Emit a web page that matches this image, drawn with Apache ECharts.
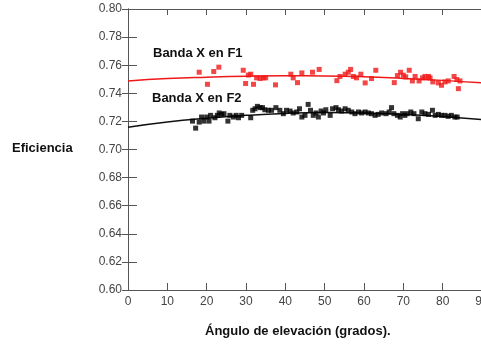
<!DOCTYPE html>
<html>
<head>
<meta charset="utf-8">
<script src="https://cdn.jsdelivr.net/npm/echarts@6/dist/echarts.min.js"></script>
<style>
  html, body { margin: 0; padding: 0; background: #fff; }
  #main { width: 481px; height: 344px; }
</style>
</head>
<body>
<div id="main"></div>
<script>
// ---- datos ----
var anguloF1 = [18.1, 20.2, 21.8, 23.1, 29.3, 29.9, 30.6, 31.2, 31.9, 32.7, 33.6, 34.4, 35.0, 37.5,
    41.4, 42.0, 43.1, 44.2, 46.9, 48.6, 53.1, 53.9, 55.2, 56.0, 56.6, 57.3, 58.1, 59.2, 60.3, 61.9,
    63.0, 67.7, 68.5, 69.3, 70.0, 70.6, 71.5, 72.3, 73.0, 74.0, 74.9, 75.5, 76.4, 76.8, 77.5, 78.9,
    79.7, 80.6, 81.4, 82.9, 83.6, 84.0, 84.4];
var eficF1 = [0.755, 0.7464, 0.7555, 0.7586, 0.7564, 0.747, 0.753, 0.7536, 0.7464, 0.751, 0.7505, 0.751,
    0.751, 0.746, 0.7536, 0.751, 0.7476, 0.7545, 0.755, 0.757, 0.749, 0.752, 0.7536, 0.755, 0.757,
    0.752, 0.751, 0.7536, 0.7474, 0.7505, 0.7564, 0.7476, 0.7526, 0.755, 0.7529, 0.7517, 0.7564,
    0.7488, 0.752, 0.7488, 0.751, 0.752, 0.752, 0.751, 0.7481, 0.7474, 0.7457, 0.7481, 0.7488,
    0.752, 0.7498, 0.7433, 0.7488];

var anguloF2 = [16.4, 17.2, 18.1, 18.7, 19.3, 20.0, 20.6, 21.0, 22.1, 22.7, 23.2, 23.8, 24.4, 25.4,
    25.9, 26.8, 27.5, 28.1, 28.9, 31.2, 31.7, 32.3, 32.9, 33.6, 34.2, 34.8, 35.7, 36.5, 37.6, 38.6,
    39.5, 40.3, 41.2, 42.0, 42.9, 43.6, 44.2, 45.0, 45.8, 46.4, 47.1, 47.8, 48.4, 49.1, 49.7, 50.3,
    51.4, 52.0, 52.9, 53.5, 54.3, 55.2, 56.0, 56.9, 57.7, 58.6, 59.4, 60.3, 61.1, 61.9, 62.8, 63.6,
    64.5, 65.6, 66.4, 67.0, 67.6, 68.5, 69.2, 69.8, 70.4, 71.0, 71.9, 72.7, 73.8, 74.7, 75.5, 76.4,
    77.4, 78.1, 78.9, 79.7, 80.6, 81.4, 82.2, 83.1, 83.7];
var eficF2 = [0.7202, 0.7152, 0.7195, 0.7231, 0.7202, 0.7231, 0.7202, 0.7243, 0.7226, 0.7243, 0.726,
    0.725, 0.7255, 0.7202, 0.7243, 0.7231, 0.7243, 0.7226, 0.7243, 0.7226, 0.7279, 0.729, 0.7307,
    0.7298, 0.7298, 0.7283, 0.7279, 0.7279, 0.7298, 0.7279, 0.7255, 0.7279, 0.7274, 0.726, 0.7267,
    0.729, 0.7231, 0.7243, 0.7321, 0.7279, 0.7243, 0.726, 0.7231, 0.7274, 0.726, 0.7283, 0.7243,
    0.729, 0.7298, 0.7283, 0.7274, 0.729, 0.7279, 0.7267, 0.7255, 0.7267, 0.726, 0.7267, 0.726,
    0.7255, 0.7243, 0.725, 0.726, 0.7255, 0.7267, 0.7298, 0.7255, 0.7243, 0.7231, 0.7255, 0.7243,
    0.7255, 0.7267, 0.7255, 0.7219, 0.7267, 0.7255, 0.725, 0.7279, 0.7243, 0.725, 0.7243, 0.7243,
    0.7236, 0.7243, 0.7231, 0.7231];

// curvas de ajuste
var anguloAjuste = [0, 10, 20, 30, 40, 50, 60, 70, 80, 90];
var ajusteF1 = [0.7488, 0.7505, 0.7515, 0.7522, 0.7525, 0.7524, 0.7518, 0.7506, 0.7492, 0.7474];
var ajusteF2 = [0.7158, 0.7195, 0.7222, 0.7243, 0.7257, 0.7263, 0.7260, 0.7250, 0.7235, 0.7213];

function pares(xs, ys) {
    return xs.map(function (x, i) { return [x, ys[i]]; });
}

var dom = document.getElementById('main');
var myChart = echarts.init(dom, null, { renderer: 'canvas' });

var ejeColor = '#555';
var fuente = 'Liberation Sans, Arial, sans-serif';

var option = {
    animation: false,
    backgroundColor: '#fff',
    grid: { left: 128, right: -1, top: 9, bottom: 54, containLabel: false, outerBoundsMode: 'none' },
    xAxis: [{
        type: 'value', min: 0, max: 90, interval: 10,
        axisLine: { lineStyle: { color: ejeColor, width: 1 } },
        axisTick: { inside: true, length: 7, lineStyle: { color: ejeColor } },
        axisLabel: { color: '#444', fontSize: 12, fontFamily: fuente, margin: 6 },
        splitLine: { show: false }
    }, {
        type: 'value', min: 0, max: 90, interval: 10, position: 'top',
        axisLine: { show: true, lineStyle: { color: ejeColor, width: 1 } },
        axisTick: { show: true, inside: true, length: 6, lineStyle: { color: ejeColor } },
        axisLabel: { show: false },
        splitLine: { show: false }
    }],
    yAxis: [{
        type: 'value', min: 0.60, max: 0.80, interval: 0.02,
        axisLine: { show: true, lineStyle: { color: ejeColor, width: 1 } },
        axisTick: { show: true, inside: true, length: 9, lineStyle: { color: ejeColor } },
        axisLabel: {
            color: '#444', fontSize: 12, fontFamily: fuente, margin: 6,
            formatter: function (v) { return v.toFixed(2); }
        },
        splitLine: { show: false }
    }, {
        type: 'value', min: 0.60, max: 0.80, interval: 0.02, position: 'right',
        axisLine: { show: true, lineStyle: { color: ejeColor, width: 1 } },
        axisTick: { show: true, inside: true, length: 6, lineStyle: { color: ejeColor } },
        axisLabel: { show: false },
        splitLine: { show: false }
    }],
    series: [{
        name: 'Ajuste F1',
        type: 'line',
        smooth: true,
        showSymbol: false,
        data: pares(anguloAjuste, ajusteF1),
        lineStyle: { color: '#f01818', width: 1.5 },
        z: 2
    }, {
        name: 'Ajuste F2',
        type: 'line',
        smooth: true,
        showSymbol: false,
        data: pares(anguloAjuste, ajusteF2),
        lineStyle: { color: '#111', width: 1.5 },
        z: 2
    }, {
        name: 'Banda X en F1',
        type: 'scatter',
        symbol: 'rect',
        symbolSize: 5,
        itemStyle: { color: '#f01818' },
        data: pares(anguloF1, eficF1),
        z: 3
    }, {
        name: 'Banda X en F2',
        type: 'scatter',
        symbol: 'rect',
        symbolSize: 5,
        itemStyle: { color: '#000' },
        data: pares(anguloF2, eficF2),
        z: 3
    }],
    graphic: [{
        type: 'text', left: 153, top: 47,
        style: { text: 'Banda X en F1', font: 'bold 13px ' + fuente, fill: '#111' }
    }, {
        type: 'text', left: 152, top: 92,
        style: { text: 'Banda X en F2', font: 'bold 13px ' + fuente, fill: '#111' }
    }, {
        type: 'text', left: 12, top: 142,
        style: { text: 'Eficiencia', font: 'bold 13px ' + fuente, fill: '#111' }
    }, {
        type: 'text', left: 205, top: 325,
        style: { text: 'Ángulo de elevación (grados).', font: 'bold 13px ' + fuente, fill: '#111' }
    }]
};

if (option && typeof option === 'object') {
    myChart.setOption(option);
}
</script>
</body>
</html>
